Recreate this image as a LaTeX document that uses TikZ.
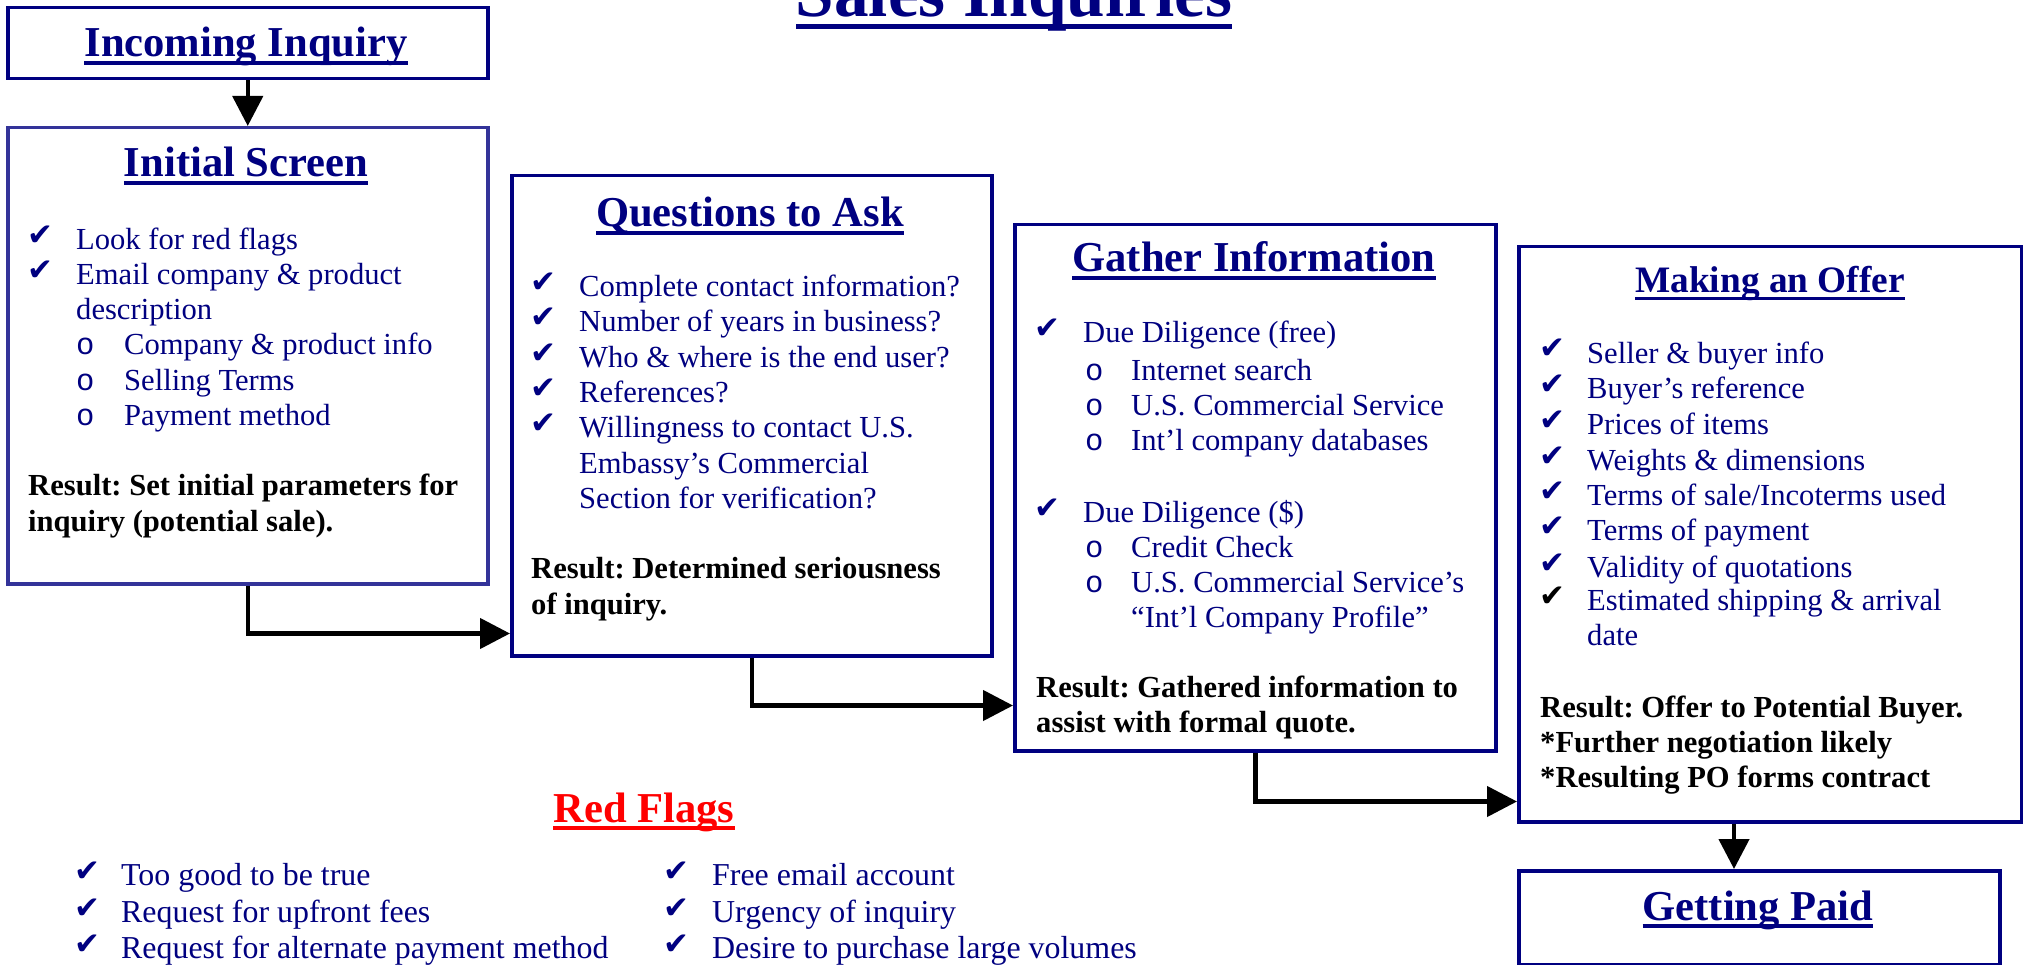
\documentclass[tikz,border=0pt]{standalone}
\usepackage{fontspec}
\setmainfont{Liberation Serif}
\newfontfamily\monofam{Liberation Mono}
\newfontfamily\chkfam{DejaVu Sans}
\usetikzlibrary{arrows.meta}
\frenchspacing

\definecolor{navy}{RGB}{0,0,128}
\definecolor{paleNavy}{RGB}{51,51,153}
\definecolor{flagred}{RGB}{255,0,0}

% underlined text with a rule that follows the font size
\newcommand\ulbox[1]{\setbox0\hbox{#1}\rlap{\rule[-0.18em]{\wd0}{0.085em}}\box0}

\newcommand\fTitle{\fontsize{69.2}{80}\selectfont\bfseries}
\newcommand\fHead{\fontsize{42.6}{50}\selectfont\bfseries}
\newcommand\fOffer{\fontsize{37.3}{44}\selectfont\bfseries}
\newcommand\fBody{\fontsize{30.6}{35}\selectfont}
\newcommand\fRes{\fontsize{30.6}{35}\selectfont\bfseries}
\newcommand\fFlag{\fontsize{31.9}{36}\selectfont}
\newcommand\fMono{\fontsize{30.6}{35}\selectfont\monofam}
\newcommand\fChk{\fontsize{31}{31}\selectfont\chkfam}
\newcommand\tick{✔}

\begin{document}
\begin{tikzpicture}[x=1pt,y=-1pt,
  box/.style={draw=navy, line width=3.5pt, inner sep=0pt, anchor=north west},
  head/.style={anchor=base, inner sep=0pt, text=navy, font=\fHead},
  item/.style={anchor=base west, inner sep=0pt, text=navy, font=\fBody},
  flag/.style={anchor=base west, inner sep=0pt, text=navy, font=\fFlag},
  sub/.style={anchor=base west, inner sep=0pt, text=navy, font=\fMono},
  res/.style={anchor=base west, inner sep=0pt, text=black, font=\fRes},
  chk/.style={anchor=base west, inner sep=0pt, text=navy, font=\fChk},
  arr/.style={line width=4.5pt, draw=black, -{Triangle[length=30pt,width=30pt]}}]

\clip (0,0) rectangle (2023,965);
\fill[white] (0,0) rectangle (2023,965);

% ---- boxes ----
\node[box, minimum width=480pt, minimum height=71pt] (inc) at (6,6) {};
\node[box, draw=paleNavy, minimum width=480pt, minimum height=456pt] (init) at (6,126) {};
\node[box, minimum width=480pt, minimum height=480pt] (ques) at (510,174) {};
\node[box, minimum width=481pt, minimum height=526pt] (gath) at (1013,223) {};
\node[box, minimum width=503pt, minimum height=575pt] (offer) at (1517,245) {};
\node[box, minimum width=481pt, minimum height=94pt] (paid) at (1517,869) {};

% ---- connectors ----
\draw[arr] (inc.south) -- (init.north);
\draw[arr] (init.south) |- ([yshift=24pt]ques.south west);
\draw[arr] (ques.south) |- ([yshift=47pt]gath.south west);
\draw[arr] (gath.south) |- ([yshift=22pt]offer.south west);
\draw[arr] ([xshift=217pt]offer.south west) -- ([xshift=217pt]paid.north west);

% ---- headings ----
\node[head, font=\fTitle] (title) at (1014,17) {\ulbox{Sales Inquiries}};
\node[head] (tInc) at (246,57) {\ulbox{Incoming Inquiry}};
\node[head] (tInit) at (246,177) {\ulbox{Initial Screen}};
\node[head] (tQues) at (750,227) {\ulbox{Questions to Ask}};
\node[head] (tGath) at (1254,272) {\ulbox{Gather Information}};
\node[head, font=\fOffer] (tOffer) at (1770,293) {\ulbox{Making an Offer}};
\node[head] (tPaid) at (1758,920) {\ulbox{Getting Paid}};
\node[head, text=flagred] (tFlags) at (644,822) {\ulbox{Red Flags}};

% ---- Initial Screen ----
\node[chk] (ic1) at (27,246) {\tick};
\node[item] (it1) at (76,250) {Look for red flags};
\node[chk] (ic2) at (27,281) {\tick};
\node[item] (it2) at (76,285) {Email company \& product};
\node[item] (it3) at (76,320) {description};
\node[sub] (is1) at (76,355) {o};
\node[item] (it4) at (124,355) {Company \& product info};
\node[sub] (is2) at (76,390) {o};
\node[item] (it5) at (124,390) {Selling Terms};
\node[sub] (is3) at (76,425) {o};
\node[item] (it6) at (124,425) {Payment method};
\node[res] (ir1) at (28,495) {Result: Set initial parameters for};
\node[res] (ir2) at (28,531) {inquiry (potential sale).};

% ---- Questions to Ask ----
\node[chk] (qc1) at (530,293) {\tick};
\node[item] (qt1) at (579,297) {Complete contact information?};
\node[chk] (qc2) at (530,328) {\tick};
\node[item] (qt2) at (579,332) {Number of years in business?};
\node[chk] (qc3) at (530,363) {\tick};
\node[item] (qt3) at (579,367) {Who \& where is the end user?};
\node[chk] (qc4) at (530,398) {\tick};
\node[item] (qt4) at (579,402) {References?};
\node[chk] (qc5) at (530,433) {\tick};
\node[item] (qt5) at (579,437) {Willingness to contact U.S.};
\node[item] (qt6) at (579,473) {Embassy’s Commercial};
\node[item] (qt7) at (579,508) {Section for verification?};
\node[res] (qr1) at (531,578) {Result: Determined seriousness};
\node[res] (qr2) at (531,614) {of inquiry.};

% ---- Gather Information ----
\node[chk] (gc1) at (1034,339) {\tick};
\node[item] (gt1) at (1083,343) {Due Diligence (free)};
\node[sub] (gs1) at (1085,380) {o};
\node[item] (gt2) at (1131,380) {Internet search};
\node[sub] (gs2) at (1085,415) {o};
\node[item] (gt3) at (1131,415) {U.S. Commercial Service};
\node[sub] (gs3) at (1085,450) {o};
\node[item] (gt4) at (1131,450) {Int’l company databases};
\node[chk] (gc2) at (1034,518) {\tick};
\node[item] (gt5) at (1083,522) {Due Diligence (\$)};
\node[sub] (gs4) at (1085,557) {o};
\node[item] (gt6) at (1131,557) {Credit Check};
\node[sub] (gs5) at (1085,592) {o};
\node[item] (gt7) at (1131,592) {U.S. Commercial Service’s};
\node[item] (gt8) at (1131,627) {“Int’l Company Profile”};
\node[res] (gr1) at (1036,697) {Result: Gathered information to};
\node[res] (gr2) at (1036,732) {assist with formal quote.};

% ---- Making an Offer ----
\node[chk] (oc1) at (1539,359) {\tick};
\node[item] (ot1) at (1587,363) {Seller \& buyer info};
\node[chk] (oc2) at (1539,394) {\tick};
\node[item] (ot2) at (1587,398) {Buyer’s reference};
\node[chk] (oc3) at (1539,430) {\tick};
\node[item] (ot3) at (1587,434) {Prices of items};
\node[chk] (oc4) at (1539,466) {\tick};
\node[item] (ot4) at (1587,470) {Weights \& dimensions};
\node[chk] (oc5) at (1539,501) {\tick};
\node[item] (ot5) at (1587,505) {Terms of sale/Incoterms used};
\node[chk] (oc6) at (1539,536) {\tick};
\node[item] (ot6) at (1587,540) {Terms of payment};
\node[chk] (oc7) at (1539,573) {\tick};
\node[item] (ot7) at (1587,577) {Validity of quotations};
\node[chk, text=black] (oc8) at (1539,606) {\tick};
\node[item] (ot8) at (1587,610) {Estimated shipping \& arrival};
\node[item] (ot9) at (1587,645) {date};
\node[res] (or1) at (1540,717) {Result: Offer to Potential Buyer.};
\node[res] (or2) at (1540,752) {*Further negotiation likely};
\node[res] (or3) at (1540,787) {*Resulting PO forms contract};

% ---- Red Flags ----
\node[chk] (fc1) at (74,881) {\tick};
\node[flag] (ft1) at (121,885) {Too good to be true};
\node[chk] (fc2) at (74,918) {\tick};
\node[flag] (ft2) at (121,922) {Request for upfront fees};
\node[chk] (fc3) at (74,954) {\tick};
\node[flag] (ft3) at (121,958) {Request for alternate payment method};
\node[chk] (fc4) at (663,881) {\tick};
\node[flag] (ft4) at (712,885) {Free email account};
\node[chk] (fc5) at (663,918) {\tick};
\node[flag] (ft5) at (712,922) {Urgency of inquiry};
\node[chk] (fc6) at (663,954) {\tick};
\node[flag] (ft6) at (712,958) {Desire to purchase large volumes};
\end{tikzpicture}
\end{document}
